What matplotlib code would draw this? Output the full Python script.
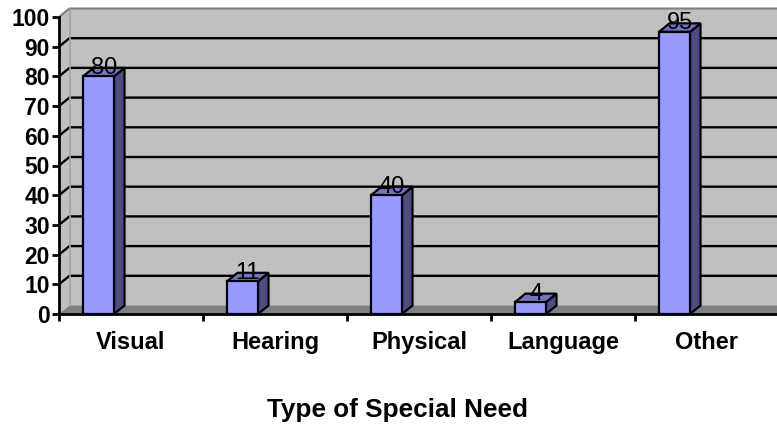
import matplotlib.pyplot as plt
from matplotlib.patches import Polygon

categories = ['Visual', 'Hearing', 'Physical', 'Language', 'Other']
values = [80, 11, 40, 4, 95]
y_ticks = list(range(0, 101, 10))
x_title = 'Type of Special Need'

W, H = 777, 425
fig = plt.figure(figsize=(W / 100, H / 100), dpi=100)
# front plane of the chart in pixels
left, right, bottom, top = 59, 779, 314, 17
ax = fig.add_axes([left / W, (H - bottom) / H, (right - left) / W, (bottom - top) / H])
ax.set_xlim(0, len(categories))
ax.set_ylim(0, 100)

px_x = (right - left) / len(categories)
px_y = (bottom - top) / 100
dx = 10.5 / px_x   # depth offset in data units
dy = 8.5 / px_y

ax.set_facecolor('none')
n = len(categories)
wall = '#C0C0C0'
floor = '#808080'

# walls and floor
ax.add_patch(Polygon([(0, 0), (0, 100), (dx, 100 + dy), (dx, dy)], closed=True,
                     facecolor=wall, edgecolor='none', clip_on=False, zorder=0))
ax.add_patch(Polygon([(dx, dy), (dx, 100 + dy), (n + dx, 100 + dy), (n + dx, dy)], closed=True,
                     facecolor=wall, edgecolor='none', clip_on=False, zorder=0))
ax.add_patch(Polygon([(0, 0), (n, 0), (n + dx, dy), (dx, dy)], closed=True,
                     facecolor=floor, edgecolor='none', clip_on=False, zorder=1))

for v in y_ticks[1:-1]:
    ax.plot([0, dx, n + dx], [v, v + dy, v + dy], color='black', lw=1.7,
            clip_on=False, zorder=2, solid_capstyle='butt')
ax.plot([0, dx, n + dx], [100, 100 + dy, 100 + dy], color='#808080', lw=1.5,
        clip_on=False, zorder=2)
ax.plot([dx, dx], [dy, 100 + dy], color='#A0A0A0', lw=1.2, clip_on=False, zorder=2)

# 3d columns
front_c, side_c, top_c = '#9999FF', '#4D4D80', '#7373BF'
for i, v in enumerate(values):
    x0 = i + 24 / px_x
    x1 = i + 55 / px_x
    kw = dict(closed=True, edgecolor='black', lw=1.6, clip_on=False, zorder=5,
              joinstyle='miter')
    ax.add_patch(Polygon([(x1, 0), (x1 + dx, dy), (x1 + dx, v + dy), (x1, v)],
                         facecolor=side_c, **kw))
    ax.add_patch(Polygon([(x0, v), (x1, v), (x1 + dx, v + dy), (x0 + dx, v + dy)],
                         facecolor=top_c, **kw))
    ax.add_patch(Polygon([(x0, 0), (x1, 0), (x1, v), (x0, v)],
                         facecolor=front_c, **kw))
    ax.text((x0 + x1) / 2 + dx / 2, v + dy, str(v), ha='center', va='center',
            fontsize=17, family='Liberation Sans', color='black', zorder=6)

# axes
for s in ['top', 'right']:
    ax.spines[s].set_visible(False)
for s in ['left', 'bottom']:
    ax.spines[s].set_linewidth(2)
    ax.spines[s].set_zorder(7)
ax.set_yticks(y_ticks)
ax.set_yticklabels([str(t) for t in y_ticks], fontsize=16.5, fontweight='bold',
                   family='Liberation Sans')
ax.tick_params(axis='y', direction='out', length=5, width=2, pad=1.5)
ax.set_xticks(range(n + 1))
ax.set_xticklabels([])
ax.tick_params(axis='x', which='major', direction='out', length=5, width=2)
ax.set_xticks([i + 0.5 for i in range(n)], minor=True)
ax.set_xticklabels(categories, minor=True, fontsize=17, fontweight='bold',
                   family='Liberation Sans')
ax.tick_params(axis='x', which='minor', length=0, pad=12)

fig.text(397.5 / W, 1 - 410 / H, x_title, ha='center', va='center',
         fontsize=18.8, fontweight='bold', family='Liberation Sans')

fig.savefig('out.png', dpi=100)
